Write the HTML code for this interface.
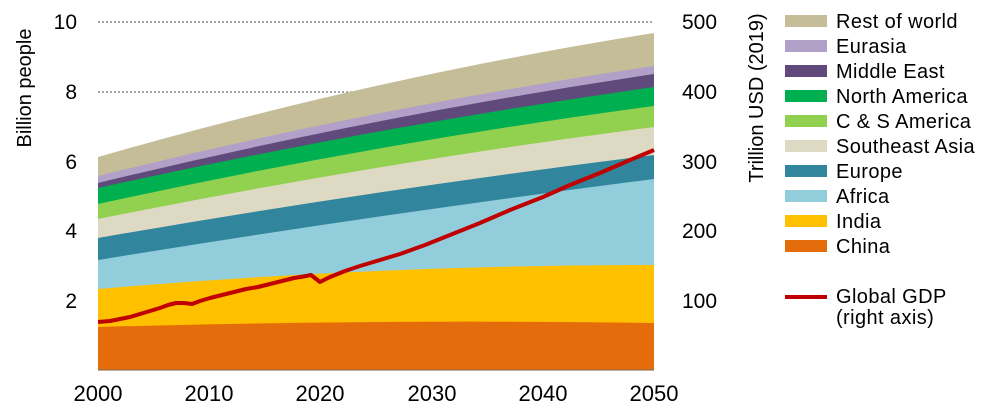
<!DOCTYPE html>
<html><head><meta charset="utf-8"><style>
body{margin:0;background:#fff;}
svg text{font-family:"Liberation Sans",sans-serif;fill:#000;}
</style></head><body>
<svg width="991" height="410" viewBox="0 0 991 410" xmlns="http://www.w3.org/2000/svg">
<line x1="98" y1="22" x2="654" y2="22" stroke="#888" stroke-width="1.5" stroke-dasharray="2,2"/>
<line x1="98" y1="92" x2="654" y2="92" stroke="#888" stroke-width="1.5" stroke-dasharray="2,2"/>
<g>
<path d="M98,370 L98,157 Q376,77 654,33 L654,370Z" fill="#c4bd97"/>
<path d="M98,370 L98,176 Q376,107 654,66 L654,370Z" fill="#b1a0c7"/>
<path d="M98,370 L98,183 Q376,115.5 654,74 L654,370Z" fill="#604a7b"/>
<path d="M98,370 L98,188 Q376,126.5 654,87 L654,370Z" fill="#00b050"/>
<path d="M98,370 L98,204 Q376,143 654,106 L654,370Z" fill="#92d050"/>
<path d="M98,370 L98,219 Q376,163 654,127 L654,370Z" fill="#ddd9c3"/>
<path d="M98,370 L98,238 Q376,189.5 654,155 L654,370Z" fill="#31859c"/>
<path d="M98,370 L98,260 Q376,214.5 654,179 L654,370Z" fill="#92cddc"/>
<path d="M98,370 L98,289 Q376,265 654,265 L654,370Z" fill="#ffc000"/>
<path d="M98,370 L98,327 Q376,319 654,323 L654,370Z" fill="#e46c0a"/>
</g>
<line x1="98" y1="370" x2="654" y2="370" stroke="#7f6a4f" stroke-width="1"/>
<polyline points="98,322 110,321 120,319 130,317 140,314 150,311 160,308 168,305 176,303 184,303 192,304 200,301 210,298 222,295 234,292 246,289 258,287 270,284 282,281 294,278 306,276 311,275 320,282 330,277 345,271 360,266 380,260 400,254 425,245 450,235 480,223 510,210 543,197 570,185 600,173 630,160 654,150" fill="none" stroke="#c00000" stroke-width="4" stroke-linejoin="round"/>
<g font-size="21" text-anchor="end">
<text x="77" y="29">10</text><text x="77" y="99">8</text><text x="77" y="169">6</text><text x="77" y="238">4</text><text x="77" y="308">2</text>
</g>
<g font-size="21">
<text x="682" y="29">500</text><text x="682" y="99">400</text><text x="682" y="169">300</text><text x="682" y="238">200</text><text x="682" y="308">100</text>
</g>
<g font-size="22" text-anchor="middle">
<text x="98" y="401">2000</text><text x="209" y="401">2010</text><text x="320" y="401">2020</text><text x="432" y="401">2030</text><text x="543" y="401">2040</text><text x="654" y="401">2050</text>
</g>
<text transform="translate(31,88) rotate(-90)" font-size="20" text-anchor="middle">Billion people</text>
<text transform="translate(763,98) rotate(-90)" font-size="20" text-anchor="middle">Trillion USD (2019)</text>
<g font-size="20" letter-spacing="0.4">
<rect x="785" y="15" width="42" height="12" fill="#c4bd97"/><text x="836" y="28">Rest of world</text>
<rect x="785" y="40" width="42" height="12" fill="#b1a0c7"/><text x="836" y="53">Eurasia</text>
<rect x="785" y="65" width="42" height="12" fill="#604a7b"/><text x="836" y="78">Middle East</text>
<rect x="785" y="90" width="42" height="12" fill="#00b050"/><text x="836" y="103">North America</text>
<rect x="785" y="115" width="42" height="12" fill="#92d050"/><text x="836" y="128">C &amp; S America</text>
<rect x="785" y="140" width="42" height="12" fill="#ddd9c3"/><text x="836" y="153">Southeast Asia</text>
<rect x="785" y="165" width="42" height="12" fill="#31859c"/><text x="836" y="178">Europe</text>
<rect x="785" y="190" width="42" height="12" fill="#92cddc"/><text x="836" y="203">Africa</text>
<rect x="785" y="215" width="42" height="12" fill="#ffc000"/><text x="836" y="228">India</text>
<rect x="785" y="240" width="42" height="12" fill="#e46c0a"/><text x="836" y="253">China</text>
<line x1="785" y1="297" x2="827" y2="297" stroke="#c00000" stroke-width="4"/>
<text x="836" y="303">Global GDP</text><text x="836" y="324">(right axis)</text>
</g>
</svg>
</body></html>
